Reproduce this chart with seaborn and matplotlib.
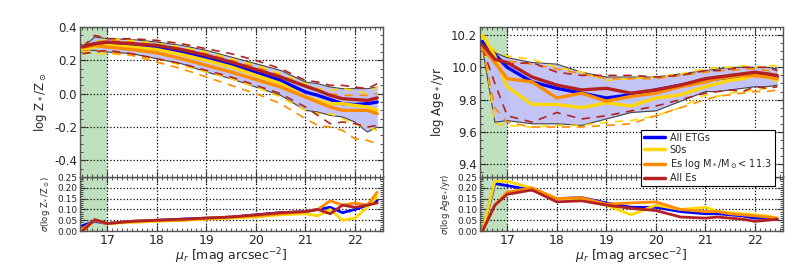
import numpy as np
import matplotlib
matplotlib.use("Agg")
import matplotlib.pyplot as plt
import seaborn as sns
from matplotlib.ticker import MultipleLocator

# surface brightness bins
mu = [16.5, 16.75, 17.0, 17.5, 18.0, 18.5, 19.0, 19.5, 20.0, 20.5,
      21.0, 21.25, 21.5, 21.75, 22.0, 22.25, 22.45]

# --- metallicity profiles
z_all = [0.28, 0.30, 0.30, 0.29, 0.275, 0.25, 0.215, 0.18, 0.13, 0.08, 0.01, -0.01, -0.035, -0.06, -0.065, -0.06, -0.05]
z_s0 = [0.27, 0.28, 0.29, 0.28, 0.265, 0.235, 0.20, 0.16, 0.11, 0.06, -0.02, -0.04, -0.06, -0.06, -0.07, -0.08, -0.10]
z_lowm = [0.28, 0.29, 0.28, 0.265, 0.245, 0.21, 0.17, 0.13, 0.085, 0.04, -0.02, -0.05, -0.08, -0.10, -0.10, -0.10, -0.12]
z_es = [0.28, 0.30, 0.31, 0.30, 0.29, 0.265, 0.23, 0.19, 0.145, 0.10, 0.045, 0.02, -0.01, -0.03, -0.035, -0.04, -0.025]
z_all_hi = [0.28, 0.34, 0.33, 0.325, 0.31, 0.29, 0.26, 0.22, 0.18, 0.14, 0.07, 0.06, 0.04, 0.03, 0.03, 0.03, 0.04]
z_all_lo = [0.26, 0.26, 0.25, 0.24, 0.21, 0.18, 0.13, 0.09, 0.04, -0.01, -0.10, -0.11, -0.13, -0.14, -0.17, -0.23, -0.20]
z_es_hi = [0.28, 0.35, 0.33, 0.33, 0.32, 0.30, 0.27, 0.24, 0.20, 0.15, 0.08, 0.07, 0.05, 0.05, 0.04, 0.03, 0.06]
z_es_lo = [0.24, 0.25, 0.26, 0.24, 0.21, 0.18, 0.14, 0.10, 0.05, 0.00, -0.08, -0.13, -0.18, -0.17, -0.18, -0.20, -0.19]
z_lowm_hi = [0.29, 0.31, 0.32, 0.31, 0.29, 0.27, 0.24, 0.20, 0.16, 0.11, 0.05, 0.02, 0.00, -0.01, -0.01, -0.01, 0.00]
z_lowm_lo = [0.26, 0.26, 0.25, 0.23, 0.19, 0.15, 0.10, 0.05, 0.00, -0.06, -0.15, -0.19, -0.20, -0.22, -0.27, -0.28, -0.30]
z_s0_hi = [0.29, 0.31, 0.33, 0.32, 0.30, 0.28, 0.25, 0.21, 0.17, 0.12, 0.06, 0.03, 0.02, 0.03, 0.02, 0.00, 0.04]
z_s0_lo = [0.25, 0.24, 0.24, 0.23, 0.21, 0.17, 0.13, 0.09, 0.04, -0.02, -0.10, -0.12, -0.12, -0.15, -0.18, -0.20, -0.22]

# --- age profiles
a_all = [10.16, 10.08, 10.00, 9.91, 9.87, 9.84, 9.81, 9.83, 9.86, 9.89, 9.92, 9.93, 9.94, 9.95, 9.95, 9.95, 9.94]
a_s0 = [10.20, 10.07, 9.88, 9.77, 9.77, 9.75, 9.78, 9.76, 9.81, 9.83, 9.88, 9.90, 9.92, 9.93, 9.95, 9.94, 9.92]
a_lowm = [10.12, 10.03, 9.93, 9.91, 9.81, 9.84, 9.79, 9.82, 9.84, 9.88, 9.91, 9.93, 9.94, 9.95, 9.95, 9.94, 9.93]
a_es = [10.14, 10.05, 10.03, 9.94, 9.89, 9.86, 9.87, 9.84, 9.86, 9.89, 9.93, 9.94, 9.95, 9.96, 9.97, 9.96, 9.95]
a_all_hi = [10.17, 10.09, 10.06, 10.03, 10.02, 9.97, 9.94, 9.94, 9.94, 9.96, 9.98, 9.99, 10.00, 10.00, 10.00, 10.00, 9.99]
a_all_lo = [10.12, 9.66, 9.67, 9.65, 9.65, 9.64, 9.68, 9.72, 9.73, 9.79, 9.85, 9.85, 9.86, 9.87, 9.88, 9.88, 9.89]
a_es_hi = [10.14, 10.06, 10.02, 10.03, 9.97, 9.95, 9.95, 9.95, 9.94, 9.95, 9.98, 9.98, 9.99, 10.00, 10.00, 10.00, 9.98]
a_es_lo = [10.12, 9.90, 9.70, 9.66, 9.72, 9.68, 9.70, 9.73, 9.76, 9.80, 9.84, 9.85, 9.86, 9.85, 9.88, 9.87, 9.88]
a_lowm_hi = [10.12, 10.06, 10.04, 10.02, 9.99, 9.96, 9.93, 9.93, 9.93, 9.95, 9.97, 9.98, 9.98, 9.99, 9.99, 9.98, 9.98]
a_lowm_lo = [10.12, 9.75, 9.66, 9.63, 9.63, 9.63, 9.64, 9.65, 9.70, 9.75, 9.80, 9.82, 9.83, 9.84, 9.85, 9.85, 9.86]
a_s0_hi = [10.20, 10.10, 10.07, 10.05, 10.00, 9.97, 9.92, 9.93, 9.94, 9.96, 9.99, 10.00, 10.00, 10.01, 10.00, 10.01, 10.01]
a_s0_lo = [10.20, 9.65, 9.64, 9.63, 9.64, 9.64, 9.66, 9.67, 9.70, 9.75, 9.83, 9.82, 9.84, 9.85, 9.86, 9.87, 9.88]

# --- scatter
sz_all = [0.025, 0.045, 0.035, 0.045, 0.05, 0.055, 0.06, 0.065, 0.075, 0.085, 0.09, 0.10, 0.11, 0.085, 0.10, 0.12, 0.14]
sz_s0 = [0.0, 0.05, 0.035, 0.04, 0.045, 0.05, 0.055, 0.06, 0.065, 0.075, 0.08, 0.07, 0.10, 0.05, 0.06, 0.11, 0.16]
sz_lowm = [0.01, 0.05, 0.035, 0.045, 0.05, 0.05, 0.06, 0.065, 0.07, 0.08, 0.09, 0.10, 0.14, 0.12, 0.13, 0.12, 0.18]
sz_es = [0.0, 0.053, 0.035, 0.045, 0.05, 0.055, 0.06, 0.065, 0.075, 0.085, 0.09, 0.10, 0.08, 0.12, 0.11, 0.12, 0.13]
sa_all = [0.0, 0.22, 0.21, 0.19, 0.15, 0.155, 0.13, 0.11, 0.11, 0.09, 0.08, 0.08, 0.075, 0.07, 0.06, 0.06, 0.055]
sa_s0 = [0.0, 0.23, 0.23, 0.20, 0.15, 0.15, 0.12, 0.075, 0.12, 0.10, 0.11, 0.09, 0.085, 0.08, 0.075, 0.07, 0.06]
sa_lowm = [0.0, 0.12, 0.18, 0.20, 0.15, 0.155, 0.125, 0.13, 0.135, 0.10, 0.09, 0.09, 0.08, 0.075, 0.07, 0.065, 0.06]
sa_es = [0.0, 0.12, 0.17, 0.19, 0.135, 0.14, 0.12, 0.105, 0.095, 0.065, 0.06, 0.065, 0.06, 0.055, 0.045, 0.05, 0.055]

labels = ["All ETGs", "S0s", r"Es log M$_*$/M$_\odot$< 11.3", "All Es"]
colors = ["#0000ff", "#ffd700", "#ff8c00", "#b22222"]

sns.set_style("ticks")
plt.rcParams["axes.unicode_minus"] = False
plt.rcParams["xtick.direction"] = "in"
plt.rcParams["ytick.direction"] = "in"

fig = plt.figure(figsize=(8, 2.65), dpi=100)


def style(ax, minor_y):
    ax.set_xlim(16.45, 22.57)
    ax.xaxis.set_major_locator(MultipleLocator(1))
    ax.xaxis.set_minor_locator(MultipleLocator(0.1))
    ax.yaxis.set_minor_locator(MultipleLocator(minor_y))
    ax.tick_params(which="both", top=True, right=True, color="#333333", pad=2)
    ax.tick_params(which="major", length=4, width=0.8)
    ax.tick_params(which="minor", length=2.5, width=0.6)
    ax.grid(True, which="major", ls=":", color="black", lw=0.9)
    ax.axvspan(16.45, 17.0, color="green", alpha=0.25, lw=0, zorder=0)
    for s in ax.spines.values():
        s.set_color("#555555")
        s.set_linewidth(1.0)


def panel(left, prof, env, dashed, sig, ylim, yticks, ylab, slab, legend=False):
    ax = fig.add_axes([left, 0.332, 0.379, 0.566])
    axb = fig.add_axes([left, 0.128, 0.379, 0.204])
    ax.set_zorder(3)
    style(ax, 0.05)
    style(axb, 0.01)

    ax.fill_between(mu, env[0], env[1], color="#c0c0f6", alpha=0.95, lw=0, zorder=1)
    for e in env:
        sns.lineplot(x=mu, y=e, ax=ax, color="#444444", lw=0.8, zorder=2)
    for (hi, lo), c in zip(dashed, colors[1:]):
        for d in (hi, lo):
            sns.lineplot(x=mu, y=d, ax=ax, color=c, lw=1.2, ls=(0, (5, 4)), zorder=3)
    for i in range(4):
        sns.lineplot(x=mu, y=prof[i], ax=ax, color=colors[i], lw=2.4, zorder=4,
                     label=labels[i] if legend else None)
    for i in range(4):
        sns.lineplot(x=mu, y=sig[i], ax=axb, color=colors[i], lw=2.0, zorder=4)

    ax.set_ylim(*ylim)
    ax.set_yticks(yticks)
    ax.set_xticklabels([])
    ax.tick_params(labelsize=8.5)
    ax.set_ylabel(ylab, fontsize=8.5)

    axb.set_ylim(0, 0.25)
    axb.set_yticks([0, 0.05, 0.10, 0.15, 0.20, 0.25])
    axb.set_yticklabels(["0.00", "0.05", "0.10", "0.15", "0.20", "0.25"])
    axb.tick_params(axis="y", labelsize=6.5)
    axb.tick_params(axis="x", labelsize=9)
    axb.set_ylabel(slab, fontsize=6)
    axb.set_xlabel(r"$\mu_r$ [mag arcsec$^{-2}$]", fontsize=9, labelpad=0)

    if legend:
        leg = ax.legend(loc="upper left", bbox_to_anchor=(0.53, 0.315), fontsize=7,
                        frameon=True, fancybox=False, edgecolor="black",
                        handlelength=2.2, borderpad=0.3, labelspacing=0.22,
                        handletextpad=0.5, borderaxespad=0.0, framealpha=1)
        leg.get_frame().set_linewidth(0.8)
        for l in leg.get_lines():
            l.set_linewidth(2.5)
    elif ax.get_legend():
        ax.get_legend().remove()
    return ax, axb


panel(0.1, [z_all, z_s0, z_lowm, z_es], [z_all_hi, z_all_lo],
      [(z_s0_hi, z_s0_lo), (z_lowm_hi, z_lowm_lo), (z_es_hi, z_es_lo)],
      [sz_all, sz_s0, sz_lowm, sz_es], (-0.5, 0.4), [-0.4, -0.2, 0.0, 0.2, 0.4],
      r"log Z$_*$/Z$_\odot$", r"$\sigma$(log Z$_*$/Z$_\odot$)")

panel(0.6, [a_all, a_s0, a_lowm, a_es], [a_all_hi, a_all_lo],
      [(a_s0_hi, a_s0_lo), (a_lowm_hi, a_lowm_lo), (a_es_hi, a_es_lo)],
      [sa_all, sa_s0, sa_lowm, sa_es], (9.32, 10.25), [9.4, 9.6, 9.8, 10.0, 10.2],
      r"log Age$_*$/yr", r"$\sigma$(log Age$_*$/yr)", legend=True)

fig.savefig("out.png", dpi=100)
